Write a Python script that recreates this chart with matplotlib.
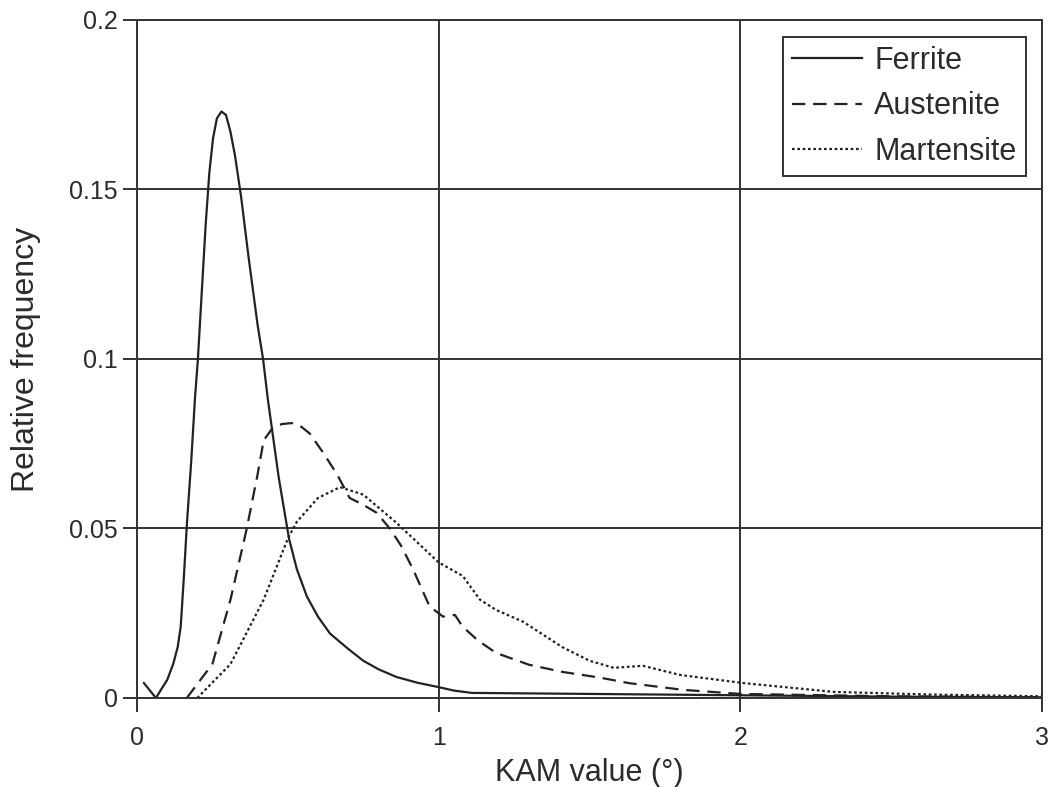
import matplotlib
matplotlib.use("Agg")
import matplotlib.pyplot as plt

# values
ferrite_x = [0.023, 0.063, 0.08, 0.10, 0.12, 0.135, 0.145, 0.155, 0.166, 0.18, 0.192, 0.202,
             0.215, 0.228, 0.24, 0.252, 0.265, 0.28, 0.295, 0.31, 0.325, 0.345, 0.37, 0.40,
             0.418, 0.434, 0.47, 0.504, 0.53, 0.563, 0.60, 0.64, 0.70, 0.75, 0.80, 0.86,
             0.93, 1.0, 1.05, 1.11, 1.5, 2.0, 2.5, 3.0]
ferrite_y = [0.0044, 0.0, 0.0025, 0.0053, 0.010, 0.015, 0.021, 0.035, 0.052, 0.070, 0.088, 0.10,
             0.12, 0.14, 0.155, 0.165, 0.171, 0.173, 0.172, 0.167, 0.160, 0.148, 0.130, 0.110,
             0.10, 0.088, 0.065, 0.047, 0.038, 0.030, 0.024, 0.019, 0.0145, 0.011, 0.0085, 0.0062,
             0.0045, 0.0032, 0.0022, 0.0015, 0.0012, 0.0008, 0.0004, 0.0002]

austenite_x = [0.165, 0.25, 0.31, 0.364, 0.40, 0.42, 0.45, 0.48, 0.513, 0.545, 0.573, 0.62, 0.663,
               0.705, 0.75, 0.795, 0.838, 0.875, 0.915, 0.97, 1.015, 1.054, 1.08, 1.13, 1.19,
               1.30, 1.41, 1.535, 1.63, 1.81, 2.0, 2.5, 3.0]
austenite_y = [0.0, 0.010, 0.029, 0.050, 0.066, 0.076, 0.0797, 0.0808, 0.0811, 0.0800, 0.078, 0.072,
               0.066, 0.059, 0.0570, 0.0546, 0.050, 0.045, 0.038, 0.027, 0.024, 0.0245, 0.021,
               0.017, 0.0133, 0.0098, 0.0077, 0.006, 0.0044, 0.0024, 0.0012, 0.0005, 0.0002]

martensite_x = [0.20, 0.31, 0.42, 0.50, 0.53, 0.60, 0.673, 0.75, 0.86, 1.0, 1.08, 1.137,
                1.19, 1.28, 1.41, 1.50, 1.58, 1.677, 1.80, 2.01, 2.31, 2.64, 3.0]
martensite_y = [0.0, 0.010, 0.029, 0.047, 0.052, 0.059, 0.0622, 0.060, 0.0517, 0.040, 0.036, 0.029,
                0.026, 0.0225, 0.015, 0.011, 0.0089, 0.0095, 0.0068, 0.0044, 0.0018, 0.001, 0.0005]

x_ticks = [0, 1, 2, 3]
y_ticks = [0, 0.05, 0.1, 0.15, 0.2]
y_tick_labels = ["0", "0.05", "0.1", "0.15", "0.2"]

plt.rcParams['font.family'] = ['Liberation Sans', 'DejaVu Sans']
txt = '#2b2b2b'

fig = plt.figure(figsize=(10.56, 7.87), dpi=100)
ax = fig.add_axes([0.1297, 0.1131, 0.857, 0.8615])

ax.plot(ferrite_x, ferrite_y, color='#222222', lw=1.6, label='Ferrite')
ax.plot(austenite_x, austenite_y, color='#222222', lw=1.6, dashes=(6, 3.5), label='Austenite')
ax.plot(martensite_x, martensite_y, color='#222222', lw=1.6, dashes=(1.2, 1.2), label='Martensite')

ax.set_xlim(0, 3)
ax.set_ylim(0, 0.2)
ax.set_xticks(x_ticks)
ax.set_yticks(y_ticks)
ax.set_yticklabels(y_tick_labels)
ax.grid(True, color='#333333', lw=1.4)
for s in ax.spines.values():
    s.set_color('#333333')
    s.set_linewidth(1.4)
ax.tick_params(direction='out', length=10, width=1.4, color='#333333',
               labelsize=18, labelcolor=txt)
ax.tick_params(axis='y', pad=4)
ax.tick_params(axis='x', pad=10)

ax.set_xlabel('KAM value (°)', fontsize=22, color=txt, labelpad=6)
ax.set_ylabel('Relative frequency', fontsize=23, color=txt, labelpad=20)

leg = ax.legend(loc='upper right', fontsize=22, handlelength=2.3, handletextpad=0.4,
                fancybox=False, framealpha=1, edgecolor='#333333',
                borderpad=0.3, labelspacing=0.5, borderaxespad=0,
                bbox_to_anchor=(0.982, 0.975))
leg.get_frame().set_linewidth(1.4)
for t in leg.get_texts():
    t.set_color(txt)

fig.savefig('out.png', dpi=100)
